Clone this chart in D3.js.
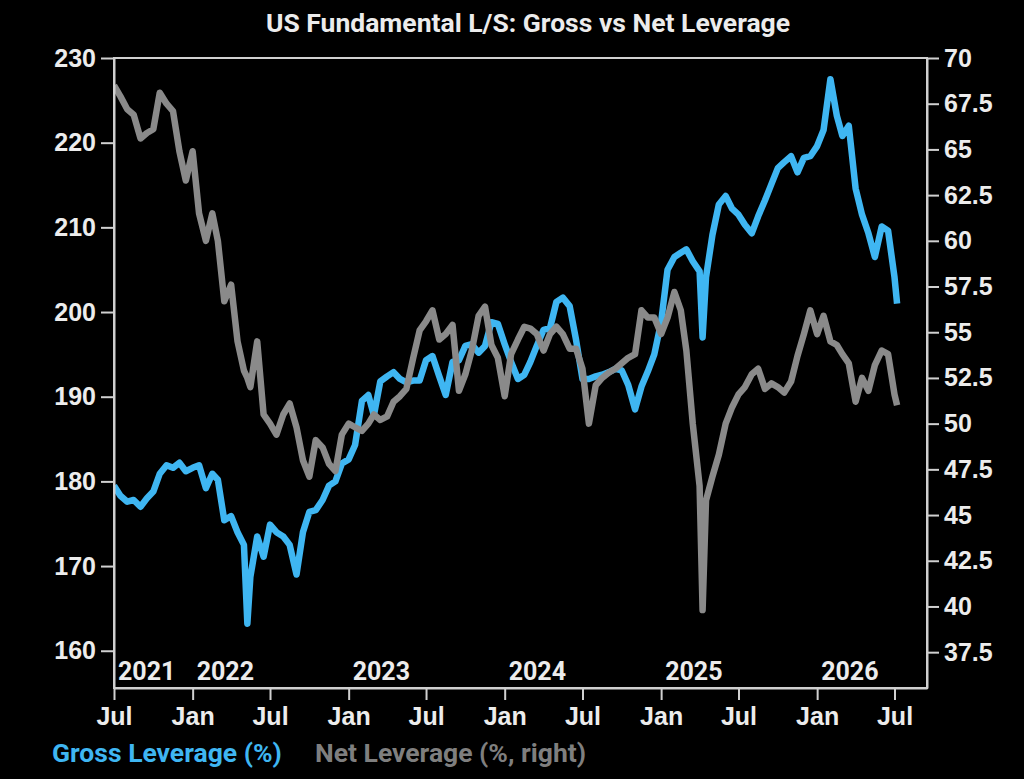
<!DOCTYPE html>
<html>
<head>
<meta charset="utf-8">
<script src="https://d3js.org/d3.v7.min.js"></script>
<style>
  html, body { margin: 0; padding: 0; background: #000; }
  svg { display: block; font-family: Roboto, "Noto Sans", sans-serif; }
  .axis path, .axis line { stroke: #d0d0d0; stroke-width: 2; }
  .axis text { fill: #ececec; font-size: 25px; font-weight: 700; }
</style>
</head>
<body>
<svg id="chart" width="1024" height="779"></svg>
<script>
// Semi-monthly grid (1st and 16th) from Jul 2021 to Jul 2026
var gridCount = 121;

// Gross leverage (%), left axis
var gross = [
  179.5, 178.3, 177.6, 177.8, 177.0, 178.0, 178.8, 180.9, 181.9, 181.6,
  182.2, 181.2, 181.6, 181.9, 179.2, 180.9, 180.2, 175.4, 175.9, 174.0,
  172.5, 168.7, 173.5, 171.1, 174.9, 174.0, 173.5, 172.5, 169.0, 174.0,
  176.4, 176.6, 177.8, 179.5, 180.0, 182.1, 182.6, 184.3, 189.5, 190.2,
  187.8, 191.8, 192.4, 192.9, 192.1, 191.7, 191.9, 191.9, 194.3, 194.8,
  192.4, 190.2, 194.1, 194.3, 196.0, 196.2, 195.2, 196.0, 198.8, 198.6,
  196.2, 194.1, 192.1, 192.6, 194.1, 196.0, 197.9, 198.1, 201.2, 201.7,
  200.7, 196.7, 192.1, 192.1, 192.4, 192.6, 192.9, 193.3, 193.1, 191.4,
  188.5, 191.2, 193.0, 195.0, 198.8, 205.0, 206.5, 207.0, 207.4, 206.0,
  204.8, 204.1, 209.1, 212.7, 213.7, 212.2, 211.5, 210.3, 209.3, 211.3,
  213.2, 215.1, 217.0, 217.7, 218.4, 216.5, 218.2, 218.4, 219.6, 221.5,
  227.5, 223.2, 220.8, 222.0, 214.6, 211.5, 209.3, 206.5, 210.1, 209.6,
  204.1
];

// Net leverage (%), right axis
var net = [
  68.5, 67.9, 67.2, 66.9, 65.6, 65.9, 66.1, 68.1, 67.5, 67.1,
  64.9, 63.3, 64.9, 61.5, 60.0, 61.5, 60.0, 56.7, 57.6, 54.5,
  52.9, 52.0, 54.5, 50.5, 50.0, 49.4, 50.5, 51.1, 49.8, 48.0,
  47.1, 49.1, 48.7, 47.8, 47.4, 49.4, 50.0, 49.8, 49.6, 50.0,
  50.5, 50.2, 50.4, 51.2, 51.5, 51.9, 53.6, 55.1, 55.6, 56.2,
  54.6, 54.9, 55.4, 51.8, 52.7, 54.0, 55.9, 56.4, 54.3, 53.6,
  51.5, 53.8, 54.6, 55.3, 55.2, 54.9, 54.0, 54.9, 55.3, 54.9,
  54.1, 54.1, 53.0, 50.0, 52.1, 52.5, 52.8, 53.0, 53.3, 53.6,
  53.8, 56.2, 55.8, 55.8, 54.9, 55.8, 57.2, 56.2, 54.0, 50.0,
  46.6, 45.8, 47.1, 48.3, 50.0, 50.9, 51.6, 52.0, 52.7, 53.0,
  51.9, 52.2, 52.0, 51.7, 52.3, 53.7, 54.9, 56.2, 54.9, 55.9,
  54.5, 54.3, 53.8, 53.3, 51.2, 52.5, 51.8, 53.2, 54.0, 53.8,
  51.6
];

// Extra readings between grid dates (spikes and the last print)
var extraDates = ["2022-05-09", "2025-04-08", "2026-07-07"];
var extraGross = [163.2, 197.0, 201.0];
var extraNet = [52.5, 39.8, 51.0];

var leftTicks = [160, 170, 180, 190, 200, 210, 220, 230];
var rightTicks = [37.5, 40, 42.5, 45, 47.5, 50, 52.5, 55, 57.5, 60, 62.5, 65, 67.5, 70];
var yearLabels = ["2021", "2022", "2023", "2024", "2025", "2026"];

var title = "US Fundamental L/S: Gross vs Net Leverage";
var grossLabel = "Gross Leverage (%)";
var netLabel = "Net Leverage (%, right)";

var blue = "#3fb6f2";
var grey = "#8a8a8a";

function drawChart() {
  var parse = d3.timeParse("%Y-%m-%d");
  var rows = [];
  for (var i = 0; i < gridCount; i++) {
    var d = new Date(2021, 6 + Math.floor(i / 2), i % 2 ? 16 : 1);
    rows.push({ date: d, gross: gross[i], net: net[i] });
  }
  extraDates.forEach(function(s, k) {
    rows.push({ date: parse(s), gross: extraGross[k], net: extraNet[k] });
  });
  rows.sort(function(a, b) { return a.date - b.date; });

  var svg = d3.select("#chart");
  var pL = 114, pR = 927, pT = 58, pB = 688;

  var x = d3.scaleTime()
    .domain([new Date(2021, 6, 1), new Date(2026, 8, 15)])
    .range([pL, pR]);
  var yL = d3.scaleLinear().domain([155.6, 230]).range([pB, pT]);
  var yR = d3.scaleLinear().domain([35.54, 70]).range([pB, pT]);

  svg.append("rect").attr("width", 1024).attr("height", 779).attr("fill", "#000");

  // title
  svg.append("text")
    .attr("x", 528).attr("y", 32)
    .attr("text-anchor", "middle")
    .attr("fill", "#ececec")
    .style("font-size", "26.5px").style("font-weight", 700)
    .text(title);

  // lines (under the frame)
  svg.append("clipPath").attr("id", "clip")
    .append("rect").attr("x", pL).attr("y", pT).attr("width", pR - pL).attr("height", pB - pT);

  var lineG = d3.line().x(function(d) { return x(d.date); }).y(function(d) { return yL(d.gross); });
  var lineN = d3.line().x(function(d) { return x(d.date); }).y(function(d) { return yR(d.net); });

  svg.append("path").datum(rows)
    .attr("clip-path", "url(#clip)")
    .attr("fill", "none").attr("stroke", blue)
    .attr("stroke-width", 6.5).attr("stroke-linejoin", "round")
    .attr("d", lineG);

  svg.append("path").datum(rows)
    .attr("clip-path", "url(#clip)")
    .attr("fill", "none").attr("stroke", grey)
    .attr("stroke-width", 6.5).attr("stroke-linejoin", "round")
    .attr("d", lineN);

  // frame
  svg.append("rect")
    .attr("x", pL).attr("y", pT)
    .attr("width", pR - pL).attr("height", pB - pT)
    .attr("fill", "none").attr("stroke", "#d0d0d0").attr("stroke-width", 2);

  // axes
  var fmtR = function(d) { return d % 1 === 0 ? d : d.toFixed(1); };

  svg.append("g").attr("class", "axis")
    .attr("transform", "translate(" + pL + ",0)")
    .call(d3.axisLeft(yL).tickValues(leftTicks).tickSize(13).tickPadding(5).tickSizeOuter(0));

  svg.append("g").attr("class", "axis")
    .attr("transform", "translate(" + pR + ",0)")
    .call(d3.axisRight(yR).tickValues(rightTicks).tickFormat(fmtR).tickSize(12).tickPadding(5).tickSizeOuter(0));

  var monthTicks = d3.timeMonth.every(6).range(new Date(2021, 6, 1), new Date(2026, 7, 1));
  svg.append("g").attr("class", "axis")
    .attr("transform", "translate(0," + pB + ")")
    .call(d3.axisBottom(x).tickValues(monthTicks).tickFormat(d3.timeFormat("%b")).tickSize(12).tickPadding(7).tickSizeOuter(0));

  // year labels inside the plot, left aligned at start of each year
  svg.append("g").selectAll("text")
    .data(yearLabels)
    .join("text")
    .attr("x", function(d, k) { return x(k === 0 ? new Date(2021, 6, 1) : new Date(+d, 0, 1)) + 4; })
    .attr("y", 680)
    .attr("fill", "#ececec")
    .style("font-size", "25px").style("font-weight", 700)
    .text(function(d) { return d; });

  // legend
  svg.append("text")
    .attr("x", 52).attr("y", 762)
    .attr("fill", blue)
    .style("font-size", "26.5px").style("font-weight", 700)
    .text(grossLabel);
  svg.append("text")
    .attr("x", 315).attr("y", 762)
    .attr("fill", "#7f7f7f")
    .style("font-size", "26.5px").style("font-weight", 700)
    .text(netLabel);
}

drawChart();
</script>
</body>
</html>
